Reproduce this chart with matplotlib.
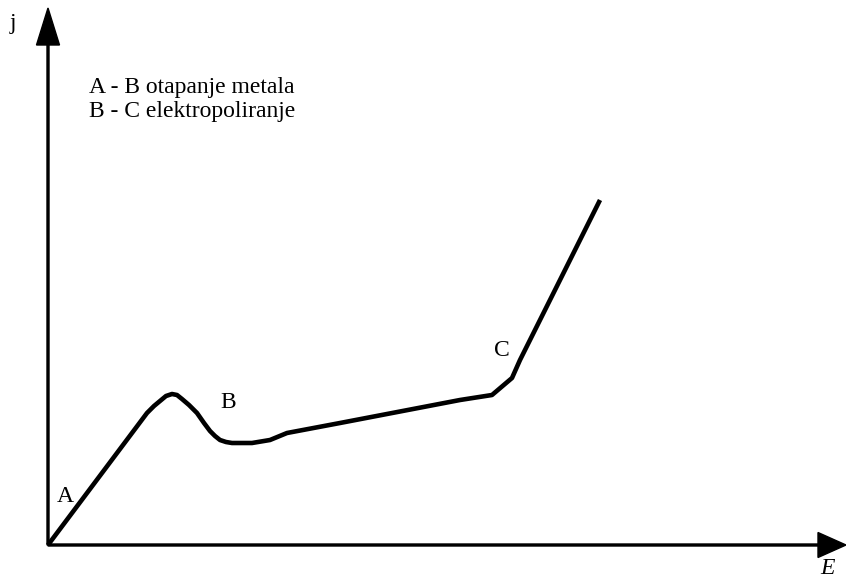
import matplotlib
import matplotlib.pyplot as plt

matplotlib.use('Agg')

plt.rcParams['font.family'] = ['Liberation Serif', 'DejaVu Serif']

# polarisation curve j(E) (arbitrary units)
E = [0, 99, 106, 112, 118, 124, 129, 134, 141, 149, 156, 162, 167, 172, 178, 184,
     204, 222, 239, 292, 412, 444, 464, 472, 552]
j = [0, 132, 139, 144, 149, 151, 150, 146, 140, 132, 122, 114, 109, 105, 103, 102,
     102, 105, 112, 122, 145, 150, 167, 185, 345]

legendLines = ["A - B otapanje metala", "B - C elektropoliranje"]
pointLabels = ["A", "B", "C"]
pointPos = [(17, 48), (180, 142), (454, 195)]

fig = plt.figure(figsize=(8.46, 5.79), dpi=100)
ax = fig.add_axes([0, 0, 1, 1])
ax.set_xlim(-48, 798)
ax.set_ylim(-34, 545)
ax.axis("off")

# axes with arrow heads
ax.arrow(0, 0, 0, 537, width=2, head_width=23, head_length=37,
         length_includes_head=True, fc="black", ec="black")
ax.arrow(0, 0, 798, 0, width=2, head_width=25, head_length=28,
         length_includes_head=True, fc="black", ec="black")

ax.plot(E, j, color="black", lw=3.3, solid_joinstyle="round", solid_capstyle="butt")

ax.text(-35, 522, "j", fontsize=17, ha="center", va="center")
ax.text(779, -24, "E", fontsize=17, style="italic", ha="center", va="center")

ax.text(41, 452, legendLines[0], fontsize=17, ha="left", va="baseline")
ax.text(41, 428, legendLines[1], fontsize=17, ha="left", va="baseline")

for lbl, (x, y) in zip(pointLabels, pointPos):
    ax.text(x, y, lbl, fontsize=17, ha="center", va="center")

plt.savefig("out.png", dpi=100)
plt.close()
